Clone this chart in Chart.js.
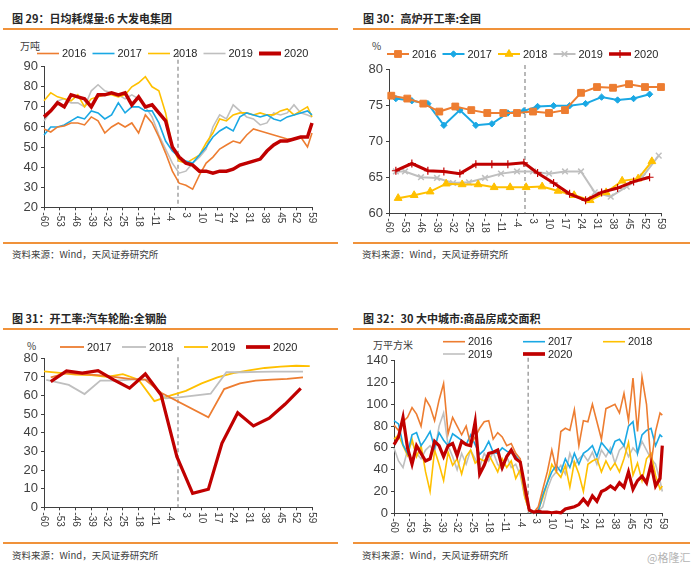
<!DOCTYPE html>
<html>
<head>
<meta charset="utf-8">
<script src="https://cdn.jsdelivr.net/npm/chart.js@4.4.1/dist/chart.umd.min.js"></script>
<style>
  body { margin: 0; width: 700px; height: 569px; position: relative; background: #fff; overflow: hidden; font-family: "Noto Sans CJK SC", sans-serif; }
  .title { position: absolute; font-size: 11px; font-weight: bold; color: #262626; line-height: 14px; white-space: nowrap; }
  .rule { position: absolute; height: 2px; background: #F0923A; }
  .src { position: absolute; font-size: 9.5px; color: #404040; line-height: 13px; white-space: nowrap; }
  .unit { position: absolute; font-size: 10px; color: #404040; line-height: 12px; white-space: nowrap; }
  .mark { position: absolute; font-size: 11px; color: #b4b4b4; line-height: 13px; white-space: nowrap; }
  canvas { position: absolute; }
</style>
</head>
<body>

<div class="title" style="left:12px;top:11px">图 29：日均耗煤量:6 大发电集团</div>
<div class="rule" style="left:3px;top:28px;width:335px"></div>
<div class="unit" style="left:20px;top:40px">万吨</div>
<canvas id="coalChart" width="350" height="204" style="left:0;top:36px"></canvas>
<div class="rule" style="left:3px;top:242px;width:335px"></div>
<div class="src" style="left:12px;top:248px">资料来源：Wind，天风证券研究所</div>

<div class="title" style="left:363px;top:11px">图 30：高炉开工率:全国</div>
<div class="rule" style="left:353px;top:28px;width:337px"></div>
<div class="unit" style="left:372px;top:40px">%</div>
<canvas id="furnaceChart" width="350" height="204" style="left:350px;top:36px"></canvas>
<div class="rule" style="left:353px;top:242px;width:337px"></div>
<div class="src" style="left:362px;top:248px">资料来源：Wind，天风证券研究所</div>

<div class="title" style="left:12px;top:311px">图 31：开工率:汽车轮胎:全钢胎</div>
<div class="rule" style="left:3px;top:328px;width:335px"></div>
<div class="unit" style="left:27px;top:340px">%</div>
<canvas id="tyreChart" width="350" height="208" style="left:0;top:332px"></canvas>
<div class="rule" style="left:3px;top:542px;width:335px"></div>
<div class="src" style="left:12px;top:549px">资料来源：Wind，天风证券研究所</div>

<div class="title" style="left:363px;top:311px">图 32：30 大中城市:商品房成交面积</div>
<div class="rule" style="left:353px;top:328px;width:337px"></div>
<div class="unit" style="left:373px;top:339px">万平方米</div>
<canvas id="housingChart" width="350" height="208" style="left:350px;top:332px"></canvas>
<div class="rule" style="left:353px;top:542px;width:337px"></div>
<div class="src" style="left:362px;top:549px">资料来源：Wind，天风证券研究所</div>
<div class="mark" style="left:647px;top:551px">@格隆汇</div>

<script>
// days relative to Spring Festival

// fig 29: daily coal use, 6 big power groups (10k t)
const coalDays = [-60,-57,-54,-51,-48,-45,-42,-39,-36,-33,-30,-27,-24,-21,-18,-15,-12,-9,-6,-3,0,3,6,9,12,15,18,21,24,27,30,33,36,39,42,45,48,51,54,57,59];
const coal2016 = [59,57.5,60,60.5,62,62,61,65,63,57,60,62,60,62,57,66,62,55,47,38,32,31,29,36,42,45,49,51,53,52,56,59,58,57,56,55,54,54,55,50,57];
const coal2017 = [56,60,60,61,63,65,64,68,67,64,66,72,67,70,70,68,68,62,53,48,45,43,42,46,50,55,58,60,58,65,67,66,65,66,64,63,65,66,67,68,66];
const coal2018 = [73,77,75,74,73,76,70,74,75,76,76,75,76,80,82,85,80,78,67,50,43,42,44,46,52,57,64,63,66,67,67,66,67,66,66,68,69,66,68,70,65];
const coal2019 = [63,68,73,74,72,72,70,78,81,78,77,76,74,76,74,70,65,56,49,42,37,38,42,45,49,60,66,64,71,68,65,64,61,62,67,66,67,71,67,66,65];
const coal2020 = [65,68,72,70,76,75,74,70,76,76,77,76,77,71,75,70,71,67,63,50,45,42,41,38,38,37,38,38,39,41,42,43,44,48,51,53,53,54,55,55,62];

// fig 30: blast furnace utilisation (%)
const furnaceDays2016 = [-59,-52,-45,-38,-31,-24,-17,-10,-4,3,10,17,24,31,38,45,52,59];
const furnace2016 = [76.3,75.9,75.2,74.1,74.8,74.3,73.9,73.9,73.9,74.1,73.9,74.3,76.7,77.5,77.4,77.9,77.5,77.5];
const furnaceDays2017 = [-57,-50,-43,-36,-29,-22,-15,-8,-1,5,12,19,26,33,40,47,54];
const furnace2017 = [75.9,75.6,75.2,72.2,74.3,72.2,72.4,73.9,74.2,74.8,74.9,74.9,75.2,76.1,75.7,75.9,76.5];
const furnaceDays2018 = [-56,-49,-42,-35,-28,-21,-14,-7,0,7,14,21,28,35,42,49,55];
const furnace2018 = [62.1,62.5,63,64.1,64,64,63.6,63.6,63.6,63.7,63.1,62.5,61.8,62.9,64.5,64.8,67.2];
const furnaceDays2019 = [-57,-53,-46,-39,-32,-25,-18,-11,-4,3,10,17,24,30,37,44,51,58];
const furnace2019 = [65.8,65.8,65,64.9,64.2,64.3,64.9,65.5,65.8,65.8,65.5,65.8,65.8,62.9,62.3,63.7,65.1,68];
const furnaceDays2020 = [-57,-50,-43,-36,-29,-22,-15,-8,-1,5,12,19,26,33,40,47,54];
const furnace2020 = [65.9,66.9,65.9,65.8,65.5,66.8,66.8,66.8,67,65.6,64.2,62.7,61.8,62.9,63.5,64.4,65];

// fig 31: all-steel tyre utilisation (%)
const tyreDays2017 = [-57,-50,-43,-36,-29,-22,-15,-8,13,20,27,34,41,48,55];
const tyre2017 = [69.8,72,71.5,71,70,69,68.5,61.5,48.3,63.5,66.5,68,68.5,69,69.8];
const tyreDays2018 = [-59,-49,-42,-35,-28,-21,-14,-6,0,14,21,28,35,42,49,55];
const tyre2018 = [68.4,65.7,60.8,68,68,68.5,68.5,58.5,59,61,72.5,72.5,72.7,72.8,72.8,72.8];
const tyreDays2019 = [-60,-53,-46,-39,-32,-25,-18,-11,-4,3,10,17,24,31,38,45,52,58];
const tyre2019 = [73,72.2,71.2,71,70,71.5,68.5,57,60,62.5,66.5,69.8,72,73.5,74.8,75.5,76,75.8];
const tyreDays2020 = [-57,-50,-43,-36,-29,-22,-15,-8,-1,6,13,19,26,33,40,47,54];
const tyre2020 = [67.5,73.2,72,73.4,68.4,64,71.6,60.3,27.2,7.5,9.7,34.4,50.8,43.7,47.8,55.3,63.9];

// fig 32: 30 big/mid cities, housing sales area (10k m2)
const housingDays = [-60,-58,-56,-54,-52,-50,-48,-46,-44,-42,-40,-38,-36,-34,-32,-30,-28,-26,-24,-22,-20,-18,-16,-14,-12,-10,-8,-6,-4,-2,0,2,4,6,8,10,12,14,16,18,20,22,24,26,28,30,32,34,36,38,40,42,44,46,48,50,52,54,56,58,59];
const housing2016 = [81,76,84,88,97,91,80,105,98,85,104,119,73,88,80,72,80,63,70,78,84,85,68,74,70,62,64,55,50,18,2,1,6,22,38,58,40,75,78,76,95,62,85,84,100,84,68,96,98,100,92,110,85,124,75,125,100,45,75,92,90];
const housing2017 = [85,82,63,55,72,74,62,68,75,60,74,67,62,73,70,67,63,72,63,54,58,66,56,55,60,57,55,53,47,20,2,0,2,17,28,38,44,38,50,42,55,45,55,58,62,52,65,60,55,66,68,62,80,84,55,72,76,78,62,72,70];
const housing2018 = [68,72,62,53,68,52,62,38,20,58,45,30,56,44,50,36,52,58,46,50,48,54,46,38,50,42,48,32,40,15,2,0,3,14,28,45,38,33,44,24,47,36,20,45,48,50,38,48,40,46,38,50,65,35,46,30,50,55,35,22,25];
const housing2019 = [60,48,42,58,65,55,50,58,62,56,80,92,62,52,40,55,45,58,50,42,55,48,56,45,40,52,42,45,35,15,2,0,2,6,22,33,38,44,36,55,44,50,54,48,56,45,58,52,60,46,58,62,52,60,55,66,58,50,45,30,20];
const housing2020 = [63,70,88,60,45,62,55,48,50,66,62,52,62,64,53,66,63,62,84,36,44,55,56,58,42,52,58,50,47,25,3,1,2,1,1,0.5,1,0.5,4,5,6,8,13,8,16,11,20,22,25,22,28,24,38,22,30,34,28,45,25,32,62];

const springFestivalDay = -0.5;

const ORANGE = '#ED7D31', BLUE = '#1AA8E4', YELLOW = '#FFC000', GRAY = '#BFBFBF', RED = '#C00000';
const AXIS = '#3f3f3f';

const pts = (xs, ys) => xs.map((x, i) => ({ x: x, y: ys[i] }));

function line(label, data, color, width, extra) {
    return Object.assign({
        label: label,
        data: data,
        borderColor: color,
        backgroundColor: color,
        borderWidth: width,
        pointRadius: 0,
        tension: 0,
        fill: false,
        clip: 6,
        order: width > 2.5 ? 0 : 1
    }, extra || {});
}

function marker(style, radius, color, bw) {
    return { pointStyle: style, pointRadius: radius, pointBackgroundColor: color, pointBorderColor: color, pointBorderWidth: bw };
}

// dashed festival line, clockwise day labels, and the line legend
const panelDecor = {
    id: 'panelDecor',
    defaults: { dashRise: 0, legend: [], lineLen: 22 },
    beforeDatasetsDraw(chart, args, opts) {
        const { ctx, chartArea } = chart;
        const px = chart.scales.x.getPixelForValue(springFestivalDay);
        ctx.save();
        ctx.strokeStyle = '#8a8a8a';
        ctx.lineWidth = 1.2;
        ctx.setLineDash([4, 3]);
        ctx.beginPath();
        ctx.moveTo(px, chartArea.top - opts.dashRise);
        ctx.lineTo(px, chartArea.bottom);
        ctx.stroke();
        ctx.restore();
    },
    afterDraw(chart, args, opts) {
        const ctx = chart.ctx;
        const xs = chart.scales.x;
        ctx.save();
        ctx.font = '10px "Liberation Sans", Arial, sans-serif';
        ctx.fillStyle = '#404040';
        ctx.textAlign = 'left';
        ctx.textBaseline = 'middle';
        xs.ticks.forEach(t => {
            const p = xs.getPixelForValue(t.value);
            ctx.save();
            ctx.translate(p, xs.top + 5);
            ctx.rotate(Math.PI / 2);
            ctx.fillText(String(t.value), 0, 0);
            ctx.restore();
        });

        ctx.font = '11px "Liberation Sans", Arial, sans-serif';
        chart.data.datasets.forEach((ds, i) => {
            const slot = opts.legend[i];
            if (!slot) return;
            const lx = slot[0], ly = slot[1];
            ctx.strokeStyle = ds.borderColor;
            ctx.lineWidth = ds.borderWidth > 2.5 ? ds.borderWidth + 0.5 : ds.borderWidth;
            ctx.beginPath();
            ctx.moveTo(lx, ly);
            ctx.lineTo(lx + opts.lineLen, ly);
            ctx.stroke();
            if (ds.pointRadius && Chart.helpers && Chart.helpers.drawPoint) {
                ctx.fillStyle = ds.pointBackgroundColor;
                ctx.strokeStyle = ds.pointBorderColor;
                ctx.lineWidth = ds.pointBorderWidth;
                Chart.helpers.drawPoint(ctx, { pointStyle: ds.pointStyle, radius: ds.pointRadius, borderWidth: ds.pointBorderWidth, rotation: 0 }, lx + opts.lineLen / 2, ly);
            }
            ctx.fillStyle = '#262626';
            ctx.fillText(ds.label, lx + opts.lineLen + 3, ly + 0.5);
        });
        ctx.restore();
    }
};
Chart.register(panelDecor);

function makeOptions(cfg) {
    return {
        responsive: false,
        animation: false,
        events: [],
        layout: { padding: cfg.padding },
        plugins: {
            legend: { display: false },
            tooltip: { enabled: false },
            panelDecor: cfg.decor
        },
        scales: {
            x: {
                type: 'linear',
                min: -60,
                max: 59,
                ticks: { stepSize: 7, display: false, maxTicksLimit: 40 },
                grid: { drawOnChartArea: false, drawTicks: true, tickLength: 3, color: AXIS },
                border: { color: AXIS, width: 1 },
                afterFit: s => { s.height = 24; }
            },
            y: {
                min: cfg.yMin,
                max: cfg.yMax,
                ticks: { stepSize: cfg.yStep, color: '#404040', padding: 3, font: { family: '"Liberation Sans", Arial, sans-serif', size: 13 } },
                grid: { drawOnChartArea: false, drawTicks: true, tickLength: 3, color: AXIS },
                border: { color: AXIS, width: 1 },
                afterFit: s => { s.width = cfg.yWidth; }
            }
        }
    };
}

document.addEventListener('DOMContentLoaded', () => {
    new Chart(document.getElementById('coalChart').getContext('2d'), {
        type: 'line',
        data: {
            datasets: [
                line('2016', pts(coalDays, coal2016), ORANGE, 1.6),
                line('2017', pts(coalDays, coal2017), BLUE, 1.6),
                line('2018', pts(coalDays, coal2018), YELLOW, 1.6),
                line('2019', pts(coalDays, coal2019), GRAY, 1.6),
                line('2020', pts(coalDays, coal2020), RED, 3.5)
            ]
        },
        options: makeOptions({
            yMin: 20, yMax: 90, yStep: 10, yWidth: 44,
            padding: { left: 0, right: 38, top: 30.7, bottom: 8.7 },
            decor: { dashRise: 14, lineLen: 22, legend: [[37, 17.5], [92.5, 17.5], [148, 17.5], [203.5, 17.5], [259, 17.5]] }
        })
    });

    new Chart(document.getElementById('furnaceChart').getContext('2d'), {
        type: 'line',
        data: {
            datasets: [
                line('2016', pts(furnaceDays2016, furnace2016), ORANGE, 2, marker('rect', 4.8, ORANGE, 1)),
                line('2017', pts(furnaceDays2017, furnace2017), BLUE, 2, marker('rectRot', 3.2, BLUE, 1)),
                line('2018', pts(furnaceDays2018, furnace2018), YELLOW, 2, marker('triangle', 4.5, YELLOW, 1)),
                line('2019', pts(furnaceDays2019, furnace2019), GRAY, 2, marker('crossRot', 4, GRAY, 1.5)),
                line('2020', pts(furnaceDays2020, furnace2020), RED, 3, marker('cross', 4, RED, 1.2))
            ]
        },
        options: makeOptions({
            yMin: 60, yMax: 80, yStep: 5, yWidth: 39,
            padding: { left: 0, right: 39, top: 33, bottom: 2.7 },
            decor: { dashRise: 4, lineLen: 22, legend: [[37, 18], [92.5, 18], [148, 18], [203.5, 18], [259, 18]] }
        })
    });

    new Chart(document.getElementById('tyreChart').getContext('2d'), {
        type: 'line',
        data: {
            datasets: [
                line('2017', pts(tyreDays2017, tyre2017), ORANGE, 1.8),
                line('2018', pts(tyreDays2018, tyre2018), GRAY, 1.8),
                line('2019', pts(tyreDays2019, tyre2019), YELLOW, 1.8),
                line('2020', pts(tyreDays2020, tyre2020), RED, 3.2)
            ]
        },
        options: makeOptions({
            yMin: 0, yMax: 80, yStep: 10, yWidth: 44,
            padding: { left: 0, right: 38, top: 26.3, bottom: 8.7 },
            decor: { dashRise: 1, lineLen: 24, legend: [[60, 15], [122, 15], [184, 15], [246, 15]] }
        })
    });

    new Chart(document.getElementById('housingChart').getContext('2d'), {
        type: 'line',
        data: {
            datasets: [
                line('2016', pts(housingDays, housing2016), ORANGE, 1.6),
                line('2017', pts(housingDays, housing2017), BLUE, 1.6),
                line('2018', pts(housingDays, housing2018), YELLOW, 1.6),
                line('2019', pts(housingDays, housing2019), GRAY, 1.6),
                line('2020', pts(housingDays, housing2020), RED, 3.2)
            ]
        },
        options: makeOptions({
            yMin: 0, yMax: 140, yStep: 20, yWidth: 44,
            padding: { left: 0, right: 37.7, top: 28.7, bottom: 2.7 },
            decor: { dashRise: 3, lineLen: 22, legend: [[93, 9.7], [173, 9.7], [253, 9.7], [93, 22], [173, 22]] }
        })
    });
});
</script>
</body>
</html>
